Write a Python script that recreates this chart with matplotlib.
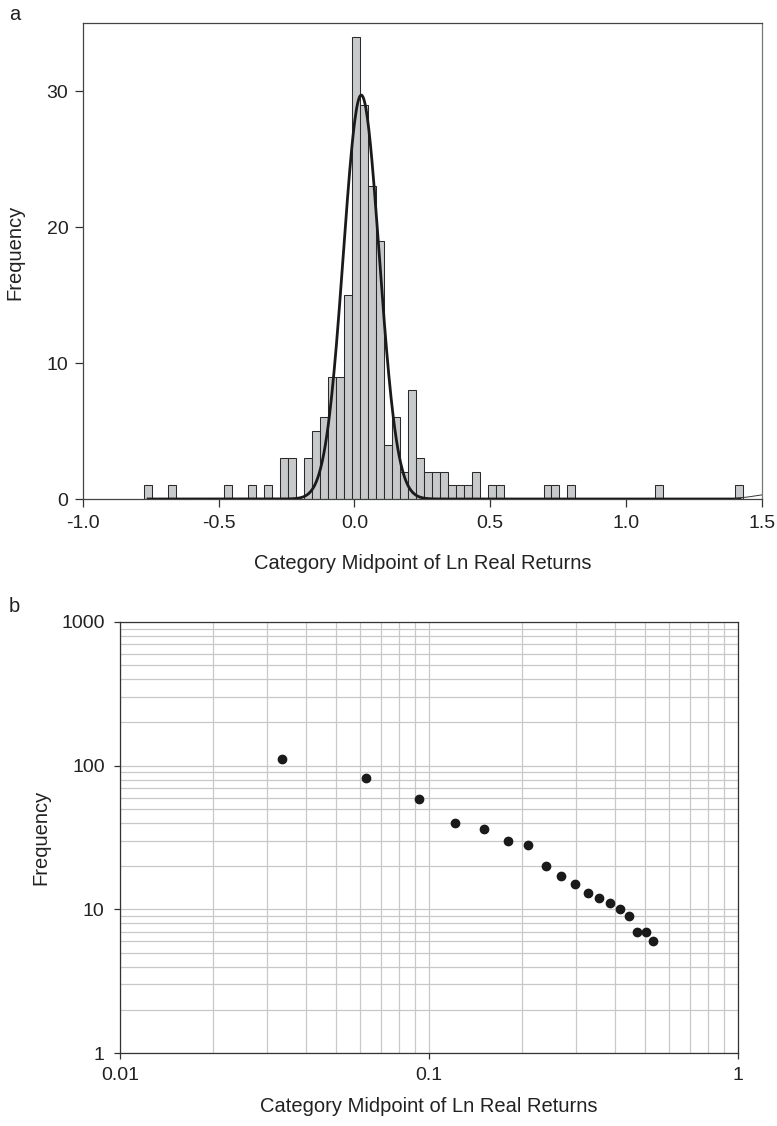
import numpy as np
import matplotlib
matplotlib.use("Agg")
import matplotlib.pyplot as plt
from matplotlib.ticker import LogLocator, FixedLocator, FixedFormatter, NullFormatter

plt.rcParams['font.family'] = ['Liberation Sans', 'DejaVu Sans']

# --- datos panel a: histograma de retornos (ancho de clase ~0.0294) ---
bin_first_center = -0.759
bin_width = 0.0294
hist_counts = [1, 0, 0, 1, 0, 0, 0, 0, 0, 0,
               1, 0, 0, 1, 0, 1, 0, 3, 3, 0,
               3, 5, 6, 9, 9, 15, 34, 29, 23, 19,
               4, 6, 2, 8, 3, 2, 2, 2, 1, 1,
               1, 2, 0, 1, 1, 0, 0, 0, 0, 0,
               1, 1, 0, 1, 0, 0, 0, 0, 0, 0,
               0, 0, 0, 0, 1, 0, 0, 0, 0, 0,
               0, 0, 0, 0, 1]

# curva normal ajustada
fit_mean = 0.025
fit_sd = 0.066
fit_peak = 29.7
fit_range = (-0.76, 1.42)

# linea fina al final del eje
tail_x = [1.40, 1.45, 1.50]
tail_y = [0.05, 0.15, 0.30]

# --- datos panel b: log-log ---
loglog_x = [0.0334, 0.0627, 0.0928, 0.1214, 0.1507, 0.1798, 0.2086, 0.2385,
            0.268, 0.2969, 0.327, 0.3557, 0.3853, 0.4142, 0.4437, 0.471,
            0.5028, 0.5307]
loglog_y = [112, 82, 59, 40, 36, 30, 28, 20, 17, 15, 13, 12, 11, 10, 9, 7, 7, 6]

text_color = '#222222'
W, H = 777, 1126
fig = plt.figure(figsize=(W / 100, H / 100), dpi=100)

# ---------------- panel a ----------------
ax1 = fig.add_axes([83 / W, 1 - 499 / H, (761.7 - 83) / W, (499 - 23) / H])
centers = bin_first_center + bin_width * np.arange(len(hist_counts))
ax1.bar(centers, hist_counts, width=bin_width, color='#c8c9cb',
        edgecolor='#2a2a2a', linewidth=0.75, zorder=2)

xs = np.linspace(fit_range[0], fit_range[1], 800)
ys = fit_peak * np.exp(-0.5 * ((xs - fit_mean) / fit_sd) ** 2)
ax1.plot(xs, ys, color='#1a1a1a', linewidth=2.0, zorder=3)
ax1.plot(tail_x, tail_y, color='#333333', linewidth=0.7, zorder=3)

ax1.set_xlim(-1.0, 1.5)
ax1.set_ylim(0, 35)
ax1.set_xticks([-1.0, -0.5, 0.0, 0.5, 1.0, 1.5])
ax1.set_xticklabels(['-1.0', '-0.5', '0.0', '0.5', '1.0', '1.5'])
ax1.set_yticks([0, 10, 20, 30])
ax1.tick_params(axis='both', direction='out', length=5.5, width=0.9,
                labelsize=14, colors='#333333', labelcolor=text_color)
ax1.tick_params(axis='x', pad=6)
ax1.tick_params(axis='y', pad=5)
for s in ax1.spines.values():
    s.set_color('#444444')
    s.set_linewidth(0.9)
ax1.spines['right'].set_color('#777777')

ax1.set_xlabel('Category Midpoint of Ln Real Returns', fontsize=14.5, color=text_color)
ax1.xaxis.set_label_coords(0.5, -0.116)
ax1.set_ylabel('Frequency', fontsize=14.5, color=text_color)
ax1.yaxis.set_label_coords(-0.086, 0.519)

fig.text(15 / W, 1 - 14 / H, 'a', fontsize=14.5, color=text_color,
         ha='center', va='center')

# ---------------- panel b ----------------
ax2 = fig.add_axes([120 / W, 1 - 1053 / H, (738 - 120) / W, (1053 - 622) / H])
ax2.set_xscale('log')
ax2.set_yscale('log')
ax2.set_xlim(0.01, 1)
ax2.set_ylim(1, 1000)

ax2.plot(loglog_x, loglog_y, linestyle='none', marker='o', markersize=6,
         color='#1a1a1a', zorder=3)

ax2.grid(True, which='both', color='#c8c8c8', linewidth=0.9, zorder=0)
ax2.set_axisbelow(True)

ax2.xaxis.set_major_locator(FixedLocator([0.01, 0.1, 1]))
ax2.xaxis.set_major_formatter(FixedFormatter(['0.01', '0.1', '1']))
ax2.xaxis.set_minor_locator(LogLocator(base=10, subs=np.arange(2, 10)))
ax2.xaxis.set_minor_formatter(NullFormatter())
ax2.yaxis.set_major_locator(FixedLocator([1, 10, 100, 1000]))
ax2.yaxis.set_major_formatter(FixedFormatter(['1', '10', '100', '1000']))
ax2.yaxis.set_minor_locator(LogLocator(base=10, subs=np.arange(2, 10)))
ax2.yaxis.set_minor_formatter(NullFormatter())

ax2.tick_params(axis='both', which='major', direction='out', length=4,
                width=0.9, labelsize=14, colors='#333333', labelcolor=text_color)
ax2.tick_params(axis='both', which='minor', length=0)
ax2.tick_params(axis='x', pad=6)
ax2.tick_params(axis='y', pad=7)
for s in ax2.spines.values():
    s.set_color('#333333')
    s.set_linewidth(0.9)

ax2.set_xlabel('Category Midpoint of Ln Real Returns', fontsize=14.5, color=text_color)
ax2.xaxis.set_label_coords(0.5, -0.103)
ax2.set_ylabel('Frequency', fontsize=14.5, color=text_color)
ax2.yaxis.set_label_coords(-0.113, 0.501)

fig.text(14 / W, 1 - 607 / H, 'b', fontsize=14.5, color=text_color,
         ha='center', va='center')

fig.savefig('out.png', dpi=100)
